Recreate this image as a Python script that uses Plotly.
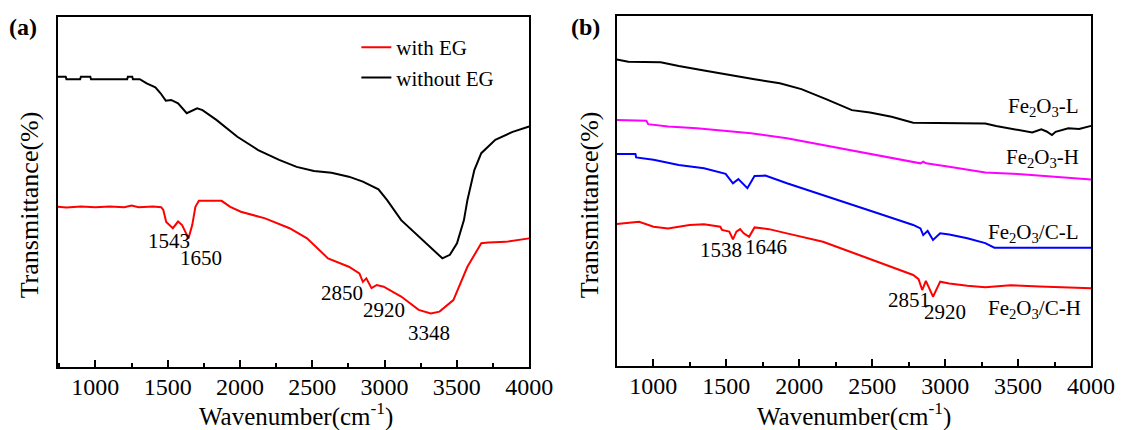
import plotly.graph_objects as go

# ---------------- Panel (a) data ----------------
wn_without_eg = [740, 795, 800, 895, 900, 965, 970, 1220, 1225, 1255, 1260, 1307, 1355, 1415, 1451,
                 1487, 1524, 1572, 1632, 1656, 1704, 1741, 1837, 1982, 2126, 2271, 2392, 2512, 2633,
                 2753, 2850, 2958, 3018, 3115, 3236, 3332, 3400, 3452, 3501, 3549, 3573, 3621, 3669,
                 3766, 3886, 4000]
t_without_eg = [82.8, 82.8, 82.1, 82.1, 82.8, 82.8, 82.1, 82.1, 82.8, 82.8, 82.1, 82.1, 80.9, 79.8, 78.1,
                76.0, 76.2, 75.2, 72.4, 72.8, 73.8, 73.3, 70.5, 65.7, 61.9, 59.1, 57.1, 55.9, 55.4,
                54.3, 52.9, 50.7, 47.6, 41.9, 37.2, 33.4, 31.0, 32.0, 35.3, 41.9, 47.6, 56.2, 61.0,
                64.8, 67.1, 68.6]

wn_with_eg = [740, 800, 900, 1000, 1100, 1200, 1250, 1300, 1400, 1455, 1470, 1490, 1536, 1572, 1600,
              1644, 1670, 1692, 1716, 1873, 1933, 2006, 2174, 2343, 2464, 2609, 2753, 2826, 2850, 2874,
              2910, 2946, 2994, 3115, 3236, 3320, 3380, 3476, 3573, 3669, 3718, 3838, 4000]
t_with_eg = [45.7, 45.5, 45.8, 45.6, 45.8, 45.6, 46.1, 45.6, 45.8, 45.6, 44.8, 41.4, 39.6, 41.5, 40.5,
             36.7, 40.5, 45.7, 47.4, 47.4, 45.7, 44.3, 42.4, 39.6, 36.7, 31.0, 28.6, 26.7, 24.3, 25.3,
             22.5, 23.4, 22.9, 20.1, 16.3, 15.3, 15.8, 19.1, 28.6, 35.3, 35.5, 35.7, 36.7]

peaks_a_x = [1511, 1728, 2709, 2993, 3304]
peaks_a_y = [35.9, 31.1, 21.1, 16.3, 9.7]
peaks_a_text = ["1543", "1650", "2850", "2920", "3348"]

# ---------------- Panel (b) data ----------------
wn_fe2o3_l = [750, 829, 1051, 1175, 1348, 1546, 1694, 1867, 2015, 2188, 2361, 2485, 2633, 2781, 3028,
              3275, 3349, 3473, 3597, 3659, 3695, 3732, 3757, 3844, 3918, 4000]
t_fe2o3_l = [87.6, 86.9, 86.8, 85.7, 84.4, 82.9, 81.9, 80.8, 79.1, 76.2, 73.1, 72.4, 71.2, 69.5, 69.3,
             69.3, 68.6, 67.6, 66.7, 67.6, 67.0, 66.0, 66.9, 67.9, 67.7, 68.6]

wn_fe2o3_h = [750, 953, 965, 1101, 1299, 1496, 1669, 1916, 2163, 2410, 2658, 2831, 2850, 2870, 3028,
              3275, 3522, 3770, 4000]
t_fe2o3_h = [70.3, 70.1, 69.1, 68.4, 67.9, 67.1, 66.5, 65.1, 63.1, 61.2, 59.3, 57.9, 58.4, 57.9, 56.9,
             55.3, 54.8, 54.1, 53.3]

wn_fe2o3_c_l = [750, 878, 883, 1002, 1175, 1348, 1496, 1546, 1583, 1645, 1694, 1768, 1916, 2089, 2287,
                2534, 2781, 2831, 2850, 2880, 2917, 2966, 3028, 3152, 3275, 3337, 3646, 4000]
t_fe2o3_c_l = [60.6, 60.6, 59.6, 58.9, 57.4, 56.5, 54.9, 52.2, 53.4, 50.8, 54.3, 54.4, 52.2, 49.8, 46.9,
               43.7, 40.3, 39.3, 37.4, 38.6, 36.0, 37.9, 37.6, 36.5, 35.1, 33.8, 33.8, 33.8]

wn_fe2o3_c_h = [750, 903, 1002, 1101, 1249, 1348, 1459, 1471, 1521, 1546, 1570, 1595, 1620, 1657, 1694,
                1793, 1916, 2163, 2410, 2658, 2781, 2818, 2843, 2868, 2917, 2966, 3028, 3152, 3275,
                3448, 3646, 4000]
t_fe2o3_c_h = [40.6, 41.2, 39.8, 39.3, 40.3, 40.5, 39.8, 38.9, 38.4, 36.2, 38.4, 39.1, 37.9, 36.9, 39.6,
               39.1, 37.9, 35.5, 31.7, 27.9, 26.0, 24.8, 21.7, 24.3, 19.8, 24.1, 23.6, 22.9, 22.5,
               23.1, 22.7, 22.2]

labels_b_x = [3934, 3934, 3934, 3947]
labels_b_y = [74.0, 59.4, 38.0, 16.4]
labels_b_text = ["Fe<sub>2</sub>O<sub>3</sub>-L", "Fe<sub>2</sub>O<sub>3</sub>-H",
                 "Fe<sub>2</sub>O<sub>3</sub>/C-L", "Fe<sub>2</sub>O<sub>3</sub>/C-H"]

peaks_b_x = [1467, 1775, 2754, 3002]
peaks_b_y = [33.1, 34.0, 18.9, 15.4]
peaks_b_text = ["1538", "1646", "2851", "2920"]

FONT = "Liberation Serif, Times New Roman, serif"
LW = 2

fig = go.Figure()
fig.add_trace(go.Scatter(x=wn_with_eg, y=t_with_eg, mode="lines", name="with EG",
                         line=dict(color="#ff0000", width=LW), xaxis="x", yaxis="y"))
fig.add_trace(go.Scatter(x=wn_without_eg, y=t_without_eg, mode="lines", name="without EG",
                         line=dict(color="#000000", width=LW), xaxis="x", yaxis="y"))

for xs, ys, col in [(wn_fe2o3_l, t_fe2o3_l, "#000000"), (wn_fe2o3_h, t_fe2o3_h, "#ff00ff"),
                    (wn_fe2o3_c_l, t_fe2o3_c_l, "#0000ff"), (wn_fe2o3_c_h, t_fe2o3_c_h, "#ff0000")]:
    fig.add_trace(go.Scatter(x=xs, y=ys, mode="lines", showlegend=False,
                             line=dict(color=col, width=LW), xaxis="x2", yaxis="y2"))

W, H = 1142, 430

def xax(domain, rng, anchor):
    return dict(domain=domain, range=rng, anchor=anchor, showline=True, linewidth=2, linecolor="black",
                mirror=True, ticks="inside", ticklen=7, tickwidth=2, tickcolor="black", tick0=1000, dtick=500,
                minor=dict(ticks="inside", ticklen=4, tickwidth=2, tickcolor="black", dtick=250, tick0=1000),
                showgrid=False, zeroline=False, ticklabelstandoff=-3,
                tickfont=dict(family=FONT, size=24, color="black"))

def yax(domain, anchor):
    return dict(domain=domain, range=[0, 100], showline=True, linewidth=2, linecolor="black", mirror=True,
                ticks="", showticklabels=False, showgrid=False, zeroline=False, anchor=anchor)

ann = []
for x, y, t in zip(peaks_a_x, peaks_a_y, peaks_a_text):
    ann.append(dict(x=x, y=y, xref="x", yref="y", text=t, showarrow=False,
                    font=dict(family=FONT, size=21, color="black")))
for x, y, t in zip(peaks_b_x, peaks_b_y, peaks_b_text):
    ann.append(dict(x=x, y=y, xref="x2", yref="y2", text=t, showarrow=False,
                    font=dict(family=FONT, size=21, color="black")))
for x, y, t in zip(labels_b_x, labels_b_y, labels_b_text):
    ann.append(dict(x=x, y=y, xref="x2", yref="y2", text=t, showarrow=False, xanchor="right",
                    font=dict(family=FONT, size=21, color="black")))

def px(x):
    return x / W

def py(y):
    return 1 - y / H

for x, y, t, rot, size in [
    (302, 414, "Wavenumber(cm<sup>-1</sup>)", 0, 25),
    (872, 414, "Wavenumber(cm<sup>-1</sup>)", 0, 25),
    (31, 205, "Transmittance(%)", -90, 26),
    (603, 205, "Transmittance(%)", -90, 26),
    (24, 27, "<b>(a)</b>", 0, 24),
    (598, 27, "<b>(b)</b>", 0, 24),
]:
    ann.append(dict(x=px(x), y=py(y), xref="paper", yref="paper", text=t, showarrow=False,
                    textangle=rot, xanchor="center", yanchor="middle",
                    font=dict(family=FONT, size=size, color="black")))

fig.update_layout(
    width=W, height=H,
    margin=dict(l=0, r=0, t=0, b=0),
    paper_bgcolor="white", plot_bgcolor="white",
    xaxis=xax([59 / W, 540.5 / W], [740, 4000], "y"),
    yaxis=yax([1 - 367 / H, 1 - 16.5 / H], "x"),
    xaxis2=xax([630 / W, 1114.5 / W], [750, 4000], "y2"),
    yaxis2=yax([1 - 366 / H, 1 - 16 / H], "x2"),
    annotations=ann,
    showlegend=True,
    legend=dict(x=364 / W, y=1 - 27 / H, xanchor="left", yanchor="top",
                bgcolor="rgba(0,0,0,0)", borderwidth=0,
                font=dict(family=FONT, size=21, color="black"), tracegroupgap=0),
)

fig.write_html("out.html")
